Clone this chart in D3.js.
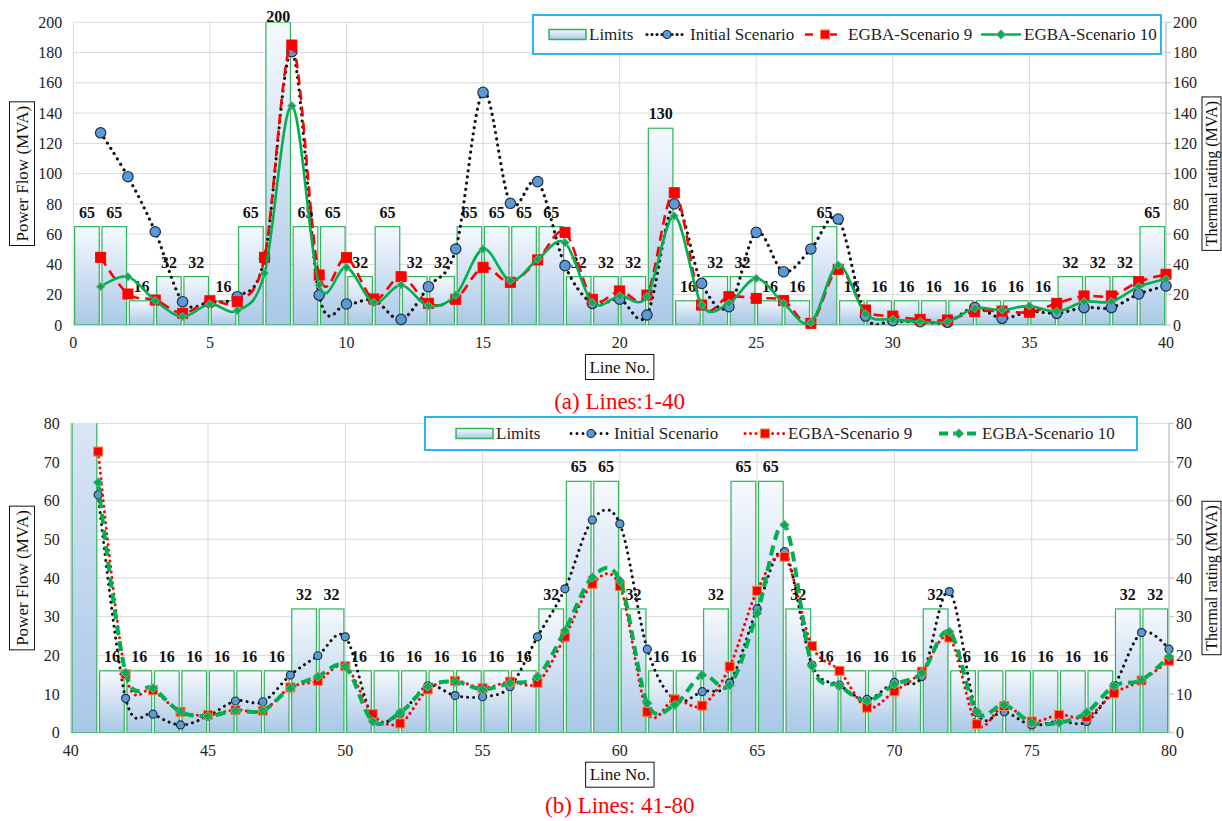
<!DOCTYPE html>
<html><head><meta charset="utf-8">
<script src="https://cdn.jsdelivr.net/npm/d3@7"></script>
<style>
html,body{margin:0;padding:0;background:#fff;}
svg, svg text{font-family:"Liberation Serif","Tinos","DejaVu Serif","Times New Roman",serif;}
svg{display:block;}
</style></head><body>
<svg id="chart" width="1222" height="821" font-family="Liberation Serif, DejaVu Serif, serif"></svg>
<script>
// ---- Panel (a): lines 1-40 ----
const linesA = d3.range(1, 41);
const limitsA = [65,65,16,32,32,16,65,200,65,65, 32,65,32,32,65,65,65,65,32,32,
                 32,130,16,32,32,16,16,65,16,16, 16,16,16,16,16,16,32,32,32,65];
const initialA = [127,98,61.6,15.4,15,18.7,44,180.6,19.8,13.9, 16.5,3.7,25.3,50.2,153.7,80.4,94.7,39.2,14.3,17,
                  6.6,80,27.5,12.1,61.2,35.2,50.2,70,5.9,2.8, 2.2,1.8,11.5,4.4,8.8,7.7,11.5,11.5,20.5,25.8];
const scen9A = [44.7,20.5,16.5,7.7,16,15.4,44.7,185,33,44.5, 17.2,31.9,14.3,17,38.1,28.2,43,61.2,17,22.5,
                19.8,87.4,13.2,18.7,17.6,16.1,1.1,36.8,9.9,5.9, 3.7,3.3,8.8,9.2,8.4,14.3,19.2,19.2,28.6,33.5];
const scen10A = [25.3,31.9,16.1,5.5,13.9,9.5,34.2,144.9,26.4,38.1, 14.8,26.4,12.6,19.8,50.2,29.3,43.4,54.4,14.8,19.2,
                 18.7,72,13.2,14.3,30.8,14.3,1.5,39.6,7.3,3.7, 2.2,2.2,11,9.9,12.6,8.8,15.4,15.4,25.3,30.2];
const xTicksA = [0,5,10,15,20,25,30,35,40];
const yTicksA = d3.range(0, 201, 20);

// ---- Panel (b): lines 41-80 ----
const linesB = d3.range(41, 81);
const limitsB = [130,16,16,16,16,16,16,16,32,32, 16,16,16,16,16,16,16,32,65,65,
                 32,16,16,32,65,65,32,16,16,16, 16,32,16,16,16,16,16,16,32,32];
const initialB = [61.5,8.9,4.8,2.0,4.3,8.2,8.0,14.9,19.9,24.8, 4.0,5.0,12.1,9.6,9.3,11.9,24.8,37.2,55.0,54.0,
                  21.6,8.5,10.6,12.9,32.0,46.8,17.5,12.3,8.6,13.0, 14.5,36.5,5.2,5.4,2.0,3.0,2.9,12.1,25.9,21.6];
const scen9B = [72.7,15.1,11.0,5.4,4.6,5.9,5.7,11.7,13.4,17.2, 4.8,2.4,11.2,13.4,11.5,13.2,12.9,24.8,38.5,37.9,
                5.4,8.6,7.0,17.1,36.7,45.5,22.4,16.0,6.5,10.7, 15.8,24.6,2.2,6.9,2.9,4.6,4.0,10.2,13.5,18.6];
const scen10B = [64.7,15.5,11.5,5.4,4.3,5.7,5.7,11.5,14.5,17.1, 2.9,5.2,11.9,13.2,11.2,12.8,14.5,26.4,40.2,39.3,
                 7.6,7.2,14.9,12.3,30.9,53.7,17.2,12.1,8.2,12.5, 15.5,26.1,5.4,7.2,2.6,2.6,5.2,12.1,13.6,19.7];
const xTicksB = [40,45,50,55,60,65,70,75,80];
const yTicksB = d3.range(0, 81, 10);

const seriesNames = ["Limits", "Initial Scenario", "EGBA-Scenario 9", "EGBA-Scenario 10"];

const FONT = "Liberation Serif, DejaVu Serif, serif";
const svg = d3.select("#chart");
const defs = svg.append("defs");
const grad = defs.append("linearGradient").attr("id", "barFill")
  .attr("x1", 0).attr("y1", 0).attr("x2", 0).attr("y2", 1);
grad.append("stop").attr("offset", "0%").attr("stop-color", "#f6f9fd");
grad.append("stop").attr("offset", "100%").attr("stop-color", "#a9c8e7");

const GRID = "#d9d9d9", AXIS = "#bfbfbf", TXT = "#222";

function drawMarker(g, kind, cx, cy, big) {
  if (kind === "circle") {
    g.append("circle").attr("cx", cx).attr("cy", cy).attr("r", big ? 5.2 : 4)
      .attr("fill", "#5b9bd5").attr("stroke", "#1f2f44").attr("stroke-width", 1.2);
  } else if (kind === "square") {
    const s = big ? 10 : 9;
    g.append("rect").attr("x", cx - s / 2).attr("y", cy - s / 2).attr("width", s).attr("height", s)
      .attr("fill", "#ff0000").attr("stroke", big ? "#ff0000" : "#f08a3c").attr("stroke-width", 1);
  } else {
    const s = big ? 4.2 : 4.8;
    g.append("path").attr("d", `M${cx},${cy - s}L${cx + s},${cy}L${cx},${cy + s}L${cx - s},${cy}Z`)
      .attr("fill", "#00b050").attr("stroke", "#9aa59d").attr("stroke-width", 1);
  }
}

function label(sel) {
  return sel.attr("font-family", FONT);
}

function drawPanel(o) {
  const x = d3.scaleLinear().domain(o.xDomain).range([o.left, o.right]);
  const y = d3.scaleLinear().domain([0, o.yMax]).range([o.bottom, o.top]);
  const g = svg.append("g").attr("font-family", FONT);
  const clipId = "clip" + o.id;
  defs.append("clipPath").attr("id", clipId).append("rect")
    .attr("x", o.left - 12).attr("y", o.top).attr("width", o.right - o.left + 24).attr("height", o.bottom - o.top);

  // gridlines
  g.append("g").selectAll("line").data(o.yTicks).join("line")
    .attr("x1", o.left).attr("x2", o.right).attr("y1", d => y(d)).attr("y2", d => y(d))
    .attr("stroke", GRID).attr("stroke-width", 1);
  g.append("g").selectAll("line").data(o.xTicks).join("line")
    .attr("x1", d => x(d)).attr("x2", d => x(d)).attr("y1", o.top).attr("y2", o.bottom)
    .attr("stroke", GRID).attr("stroke-width", 1);

  // right axis line + outward ticks
  g.append("line").attr("x1", o.right).attr("x2", o.right).attr("y1", o.top).attr("y2", o.bottom)
    .attr("stroke", AXIS);
  g.append("g").selectAll("line").data(o.yTicks).join("line")
    .attr("x1", o.right).attr("x2", o.right + 5).attr("y1", d => y(d)).attr("y2", d => y(d))
    .attr("stroke", AXIS);
  g.append("line").attr("x1", o.left).attr("x2", o.right).attr("y1", o.bottom).attr("y2", o.bottom)
    .attr("stroke", AXIS);

  // axis labels
  label(g.append("g").selectAll("text").data(o.yTicks).join("text"))
    .attr("x", o.left - 11).attr("y", d => y(d)).attr("dy", "0.35em").attr("text-anchor", "end")
    .attr("font-size", 16).attr("fill", TXT).text(d => d);
  label(g.append("g").selectAll("text").data(o.yTicks).join("text"))
    .attr("x", o.right + 7).attr("y", d => y(d)).attr("dy", "0.35em").attr("text-anchor", "start")
    .attr("font-size", 16).attr("fill", TXT).text(d => d);
  label(g.append("g").selectAll("text").data(o.xTicks).join("text"))
    .attr("x", d => x(d)).attr("y", o.bottom + 23).attr("text-anchor", "middle")
    .attr("font-size", 16).attr("fill", TXT).text(d => d);

  // limit bars: each bar fills the interval just before its line number
  const bw = (x(o.xDomain[0] + 1) - x(o.xDomain[0])) * 0.9;
  const barData = o.lines.map((ln, i) => ({ ln, v: o.limits[i] }));
  g.append("g").attr("clip-path", `url(#${clipId})`).selectAll("rect").data(barData).join("rect")
    .attr("x", d => x(d.ln - 0.5) - bw / 2).attr("width", bw)
    .attr("y", d => y(d.v)).attr("height", d => y(0) - y(d.v))
    .attr("fill", "url(#barFill)").attr("stroke", "#2fb45a").attr("stroke-width", 1.2);
  label(g.append("g").selectAll("text").data(barData.filter(d => d.v <= o.yMax)).join("text"))
    .attr("x", d => x(d.ln - 0.5)).attr("y", d => Math.max(y(d.v) - 9, o.top))
    .attr("text-anchor", "middle").attr("font-size", 16).attr("font-weight", "bold")
    .attr("fill", "#111").text(d => d.v);

  // flow series
  const line = d3.line().x(d => x(d.ln)).y(d => y(d.v)).curve(d3.curveCardinal.tension(0));
  o.series.forEach(s => {
    const pts = o.lines.map((ln, i) => ({ ln, v: s.values[i] }));
    const sg = g.append("g");
    sg.append("path").datum(pts).attr("d", line).attr("clip-path", `url(#${clipId})`)
      .attr("fill", "none").attr("stroke", s.color).attr("stroke-width", s.width)
      .attr("stroke-dasharray", s.dash).attr("stroke-linecap", s.cap || "butt");
    pts.forEach(p => drawMarker(sg, s.marker, x(p.ln), y(p.v), o.big));
  });

  // legend
  const L = o.legend;
  const lg = g.append("g");
  lg.append("rect").attr("x", L.x).attr("y", L.y).attr("width", L.w).attr("height", L.h)
    .attr("fill", "#fff").attr("stroke", "#2eb4ec").attr("stroke-width", 2);
  const cy = L.y + L.h / 2;
  lg.append("rect").attr("x", L.items[0]).attr("y", cy - 5).attr("width", 37).attr("height", 10)
    .attr("fill", "url(#barFill)").attr("stroke", "#2fb45a").attr("stroke-width", 1.5);
  label(lg.append("text")).attr("x", L.items[0] + 40).attr("y", cy).attr("dy", "0.35em")
    .attr("font-size", 17).attr("fill", TXT).text(seriesNames[0]);
  o.series.forEach((s, i) => {
    const x0 = L.items[i + 1];
    lg.append("line").attr("x1", x0).attr("x2", x0 + 40).attr("y1", cy).attr("y2", cy)
      .attr("stroke", s.color).attr("stroke-width", s.width)
      .attr("stroke-dasharray", s.legendDash || s.dash).attr("stroke-linecap", s.cap || "butt");
    drawMarker(lg, s.marker, x0 + 20, cy, false);
    label(lg.append("text")).attr("x", x0 + 43).attr("y", cy).attr("dy", "0.35em")
      .attr("font-size", 17).attr("fill", TXT).text(seriesNames[i + 1]);
  });

  // boxed axis titles
  function boxedText(cx, cyy, txt, rotate, size, bh) {
    const bg = g.append("g").attr("transform", `translate(${cx},${cyy})${rotate ? " rotate(-90)" : ""}`);
    const t = label(bg.append("text")).attr("text-anchor", "middle").attr("dy", "0.33em")
      .attr("font-size", size).attr("fill", "#111").text(txt);
    const bb = t.node().getBBox();
    bg.insert("rect", "text").attr("x", bb.x - 4).attr("y", -bh / 2).attr("width", bb.width + 8).attr("height", bh)
      .attr("fill", "#fff").attr("stroke", "#111").attr("stroke-width", 1);
  }
  const midY = (o.top + o.bottom) / 2, midX = (o.left + o.right) / 2;
  boxedText(22, midY, "Power Flow (MVA)", true, 17, 25);
  boxedText(1211.5, midY, "Thermal rating (MVA)", true, 16, 19);
  boxedText(midX, o.bottom + 42, "Line No.", false, 17, 25);

  label(svg.append("text")).attr("x", midX).attr("y", o.captionY).attr("text-anchor", "middle")
    .attr("font-size", 23).attr("fill", "#ff0000").text(o.caption);
}

drawPanel({
  id: "A", lines: linesA, limits: limitsA, xDomain: [0, 40], yMax: 200,
  xTicks: xTicksA, yTicks: yTicksA, left: 73.3, right: 1166, top: 22.3, bottom: 325, big: true,
  series: [
    { values: initialA, color: "#111", width: 3.2, dash: "0.01 6.2", cap: "round", legendDash: "0.01 5", marker: "circle" },
    { values: scen9A, color: "#ff0000", width: 2.6, dash: "10 6", legendDash: "8 16", marker: "square" },
    { values: scen10A, color: "#00b050", width: 2.6, dash: null, marker: "diamond" }
  ],
  legend: { x: 533, y: 15, w: 628, h: 39, items: [549, 647, 805, 981] },
  caption: "(a) Lines:1-40", captionY: 409
});

drawPanel({
  id: "B", lines: linesB, limits: limitsB, xDomain: [40, 80], yMax: 80,
  xTicks: xTicksB, yTicks: yTicksB, left: 70.7, right: 1169, top: 423.3, bottom: 732.7, big: false,
  series: [
    { values: initialB, color: "#111", width: 3, dash: "0.01 6", cap: "round", marker: "circle" },
    { values: scen9B, color: "#ff0000", width: 3, dash: "0.01 5.5", cap: "round", marker: "square" },
    { values: scen10B, color: "#00b050", width: 4, dash: "10 6", legendDash: "9 5", marker: "diamond" }
  ],
  legend: { x: 425, y: 417, w: 712, h: 33, items: [456, 571, 745, 939] },
  caption: "(b) Lines: 41-80", captionY: 813
});
</script>
</body></html>
